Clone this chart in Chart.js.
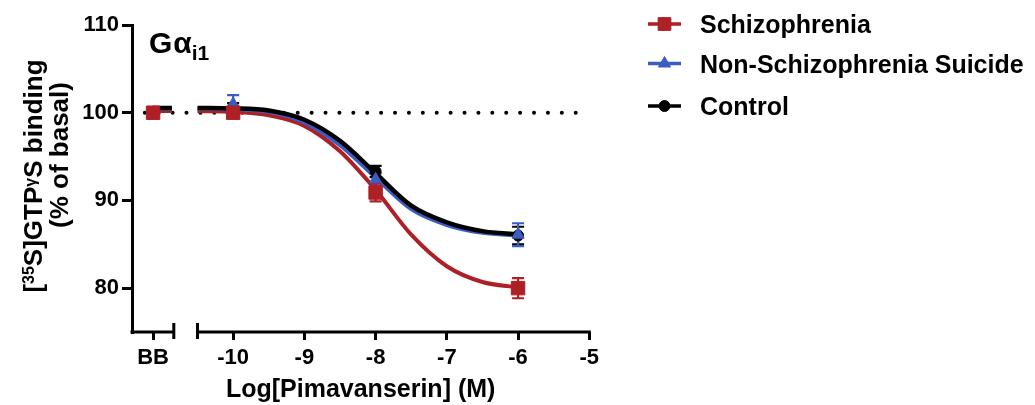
<!DOCTYPE html>
<html>
<head>
<meta charset="utf-8">
<script src="https://cdn.jsdelivr.net/npm/chart.js@4.4.1/dist/chart.umd.min.js"></script>
<style>
  html, body { margin: 0; padding: 0; background: #ffffff; }
  #wrap { width: 1035px; height: 405px; }
</style>
</head>
<body>
<div id="wrap"><canvas id="c" width="1035" height="405"></canvas></div>
<script>
// ---------------- data ----------------
const doseLabels = ['BB', '-10', '-8', '-6'];
const doseLog    = [null, -10, -8, -6];          // null = basal (BB) category

const seriesNames = ['Schizophrenia', 'Non-Schizophrenia Suicide', 'Control'];

const schizMean   = [100.0, 100.0, 90.9, 80.0];
const schizSem    = [0, 0.4, 1.0, 1.15];
const suicideMean = [100.0, 101.0, 92.4, 86.1];
const suicideSem  = [0, 1.0, 0.7, 1.3];
const controlMean = [100.0, 100.6, 93.3, 86.0];
const controlSem  = [0, 0.5, 0.65, 1.0];

// fitted curves
const fitLog      = [-10.5, -10, -9.5, -9, -8.5, -8, -7.5, -7, -6.5, -6];
const schizFit    = [100.2, 100.1, 99.7, 98.5, 95.6, 91.2, 86.1, 82.5, 80.7, 80.1];
const suicideFit  = [100.45, 100.4, 100.1, 98.9, 96.3, 92.6, 89.0, 87.2, 86.3, 86.0];
const controlFit  = [100.55, 100.5, 100.25, 99.2, 96.8, 93.1, 89.4, 87.5, 86.5, 86.15];
// flat part of the fit shown in the BB segment
const schizFitBB   = 100.2;
const suicideFitBB = 100.45;
const controlFitBB = 100.55;

const basalLevel = 100;
const yTicks = [80, 90, 100, 110];
const xTicks = [-10, -9, -8, -7, -6, -5];

// ---------------- axis layout (broken axis) ----------------
const AXIS_MIN = -11.42, AXIS_MAX = -5;
const BB_POS = -11.124;       // where the BB category sits
const LEFT_END = -10.833;     // end of the short BB segment
const RIGHT_START = -10.5;    // start of the log segment
const BASAL_FROM = -11.24, BASAL_TO = -5.06;

const RED = '#ae1f26', BLUE = '#3b5cc0', BLACK = '#000000';
const FONT = "'Liberation Sans', Arial, Helvetica, sans-serif";
Chart.defaults.font.family = FONT;
Chart.defaults.color = '#000';

const posOf = i => (doseLog[i] === null ? BB_POS : doseLog[i]);
const pts = means => means.map((m, i) => ({ x: posOf(i), y: m }));
const fitPts = (bbVal, fit) => [
  { x: BB_POS, y: bbVal }, { x: -10.86, y: bbVal }, { x: -10.7, y: null },
  ...fitLog.map((x, i) => ({ x, y: fit[i] }))
];

const series = [
  { name: seriesNames[0], color: RED,   style: 'rect',     radius: 9,   mean: schizMean,   sem: schizSem },
  { name: seriesNames[1], color: BLUE,  style: 'triangle', radius: 7,   mean: suicideMean, sem: suicideSem },
  { name: seriesNames[2], color: BLACK, style: 'circle',   radius: 5.5, mean: controlMean, sem: controlSem }
];

const datasets = [
  { id: 'basal', data: [{ x: BASAL_FROM, y: basalLevel }, { x: BASAL_TO, y: basalLevel }],
    borderColor: '#000', borderWidth: 4, borderDash: [0, 13.9], borderCapStyle: 'round',
    pointRadius: 0, order: 10, showLine: true },
  { id: 'fitRed', data: fitPts(schizFitBB, schizFit), borderColor: RED, borderWidth: 4,
    pointRadius: 0, cubicInterpolationMode: 'monotone', order: 9, showLine: true, spanGaps: false },
  { id: 'fitBlue', data: fitPts(suicideFitBB, suicideFit), borderColor: BLUE, borderWidth: 4,
    pointRadius: 0, cubicInterpolationMode: 'monotone', order: 8, showLine: true, spanGaps: false },
  { id: 'fitBlack', data: fitPts(controlFitBB, controlFit), borderColor: BLACK, borderWidth: 4.5,
    pointRadius: 0, cubicInterpolationMode: 'monotone', order: 7, showLine: true, spanGaps: false },
  { id: 'ptsBlack', data: pts(controlMean), showLine: false, pointStyle: 'circle', pointRadius: 5.5,
    pointBackgroundColor: BLACK, pointBorderColor: BLACK, pointBorderWidth: 1, order: 3 },
  { id: 'ptsBlue', data: pts(suicideMean), showLine: false, pointStyle: 'triangle', pointRadius: 7,
    pointBackgroundColor: BLUE, pointBorderColor: BLUE, pointBorderWidth: 1, order: 2 },
  { id: 'ptsRed', data: pts(schizMean), showLine: false, pointStyle: 'rect', pointRadius: 9.5,
    pointBackgroundColor: RED, pointBorderColor: RED, pointBorderWidth: 1, order: 1 }
];

// ---------------- plugins ----------------
const errorBars = {
  id: 'errorBars',
  beforeDatasetDraw(chart, args) {
    if (chart.data.datasets[args.index].id !== 'ptsBlack') return;
    const { ctx, scales: { x, y } } = chart;
    ctx.save();
    ctx.lineWidth = 2.2;
    series.slice().reverse().forEach(s => {
      ctx.strokeStyle = s.color;
      s.mean.forEach((m, i) => {
        if (!s.sem[i]) return;
        const px = x.getPixelForValue(posOf(i));
        const top = y.getPixelForValue(m + s.sem[i]);
        const bot = y.getPixelForValue(m - s.sem[i]);
        ctx.beginPath();
        ctx.moveTo(px, top); ctx.lineTo(px, bot);
        ctx.moveTo(px - 6, top); ctx.lineTo(px + 6, top);
        ctx.moveTo(px - 6, bot); ctx.lineTo(px + 6, bot);
        ctx.stroke();
      });
    });
    ctx.restore();
  }
};

const brokenAxis = {
  id: 'brokenAxis',
  afterDraw(chart) {
    const { ctx, scales: { x } } = chart;
    const yb = chart.chartArea.bottom;
    const l0 = chart.chartArea.left - 1.5, l1 = x.getPixelForValue(LEFT_END);
    const r0 = x.getPixelForValue(RIGHT_START), r1 = x.getPixelForValue(AXIS_MAX) + 1.5;
    ctx.save();
    ctx.strokeStyle = '#000';
    ctx.lineWidth = 3;
    ctx.beginPath();
    ctx.moveTo(l0, yb); ctx.lineTo(l1, yb);
    ctx.moveTo(r0, yb); ctx.lineTo(r1, yb);
    ctx.moveTo(l1, yb - 9); ctx.lineTo(l1, yb + 7);
    ctx.moveTo(r0, yb - 9); ctx.lineTo(r0, yb + 7);
    ctx.stroke();
    ctx.restore();
  }
};

const texts = {
  id: 'texts',
  afterDraw(chart) {
    const ctx = chart.ctx;
    ctx.save();
    ctx.fillStyle = '#000';
    ctx.textBaseline = 'alphabetic';
    ctx.textAlign = 'left';

    // panel title G alpha i1
    ctx.font = `bold 30px ${FONT}`;
    let tx = 149;
    ctx.fillText('G', tx, 53); tx += ctx.measureText('G').width + 1;
    ctx.fillText('\u03b1', tx, 53); tx += ctx.measureText('\u03b1').width;
    ctx.font = `bold 21px ${FONT}`;
    ctx.fillText('i1', tx, 60);

    // y-axis title (rotated, with superscript and small gamma)
    const F = 26;
    const parts1 = [
      { t: '[', s: F, dy: 0 }, { t: '35', s: 16, dy: -8 }, { t: 'S]GTP', s: F, dy: 0 },
      { t: '\u03b3', s: 16, dy: -6 }, { t: 'S binding', s: F, dy: 0 }
    ];
    let w = 0;
    parts1.forEach(p => { ctx.font = `bold ${p.s}px ${FONT}`; p.w = ctx.measureText(p.t).width; w += p.w; });
    ctx.save();
    ctx.translate(42, 176);
    ctx.rotate(-Math.PI / 2);
    let cx = -w / 2;
    parts1.forEach(p => { ctx.font = `bold ${p.s}px ${FONT}`; ctx.fillText(p.t, cx, p.dy); cx += p.w; });
    ctx.restore();
    ctx.save();
    ctx.translate(68, 155);
    ctx.rotate(-Math.PI / 2);
    ctx.font = `bold ${F}px ${FONT}`;
    ctx.textAlign = 'center';
    ctx.fillText('(% of basal)', 0, 0);
    ctx.restore();

    // legend
    const rows = [24, 63.5, 106];
    series.forEach((s, i) => {
      const yy = rows[i];
      ctx.strokeStyle = s.color;
      ctx.fillStyle = s.color;
      ctx.lineWidth = 3.5;
      ctx.beginPath(); ctx.moveTo(648, yy); ctx.lineTo(681, yy); ctx.stroke();
      ctx.lineWidth = 1;
      Chart.helpers.drawPoint(ctx, { pointStyle: s.style, radius: s.radius, borderWidth: 1, rotation: 0 }, 664.5, yy);
      ctx.fillStyle = '#000';
      ctx.font = `bold 25px ${FONT}`;
      ctx.textAlign = 'left';
      ctx.fillText(s.name, 700, yy + 9);
    });
    ctx.restore();
  }
};

// ---------------- chart ----------------
new Chart(document.getElementById('c'), {
  type: 'line',
  data: { datasets },
  plugins: [errorBars, brokenAxis, texts],
  options: {
    responsive: false,
    devicePixelRatio: 1,
    animation: false,
    layout: { padding: { left: 0, top: 25, right: 445.7, bottom: 0 } },
    plugins: { legend: { display: false }, tooltip: { enabled: false } },
    scales: {
      x: {
        type: 'linear', min: AXIS_MIN, max: AXIS_MAX,
        afterFit: s => { s.height = 73; },
        afterBuildTicks: s => { s.ticks = [BB_POS, ...xTicks].map(v => ({ value: v })); },
        border: { display: false },
        grid: { drawOnChartArea: false, drawTicks: true, tickLength: 8, lineWidth: 3, color: '#000' },
        ticks: {
          autoSkip: false, maxRotation: 0, padding: 5,
          font: { size: 22, weight: 'bold' }, color: '#000',
          callback: v => (Math.abs(v - BB_POS) < 1e-6 ? doseLabels[0] : String(v))
        },
        title: { display: true, text: 'Log[Pimavanserin] (M)', font: { size: 25, weight: 'bold' },
                 color: '#000', padding: { top: 0, bottom: 0 } }
      },
      y: {
        min: 75, max: 110,
        afterFit: s => { s.width = 132; },
        afterBuildTicks: s => { s.ticks = yTicks.map(v => ({ value: v })); },
        border: { display: true, width: 3, color: '#000' },
        grid: { drawOnChartArea: false, drawTicks: true, tickLength: 10, lineWidth: 3, color: '#000' },
        ticks: { padding: 3, font: { size: 22, weight: 'bold' }, color: '#000' }
      }
    }
  }
});
</script>
</body>
</html>
